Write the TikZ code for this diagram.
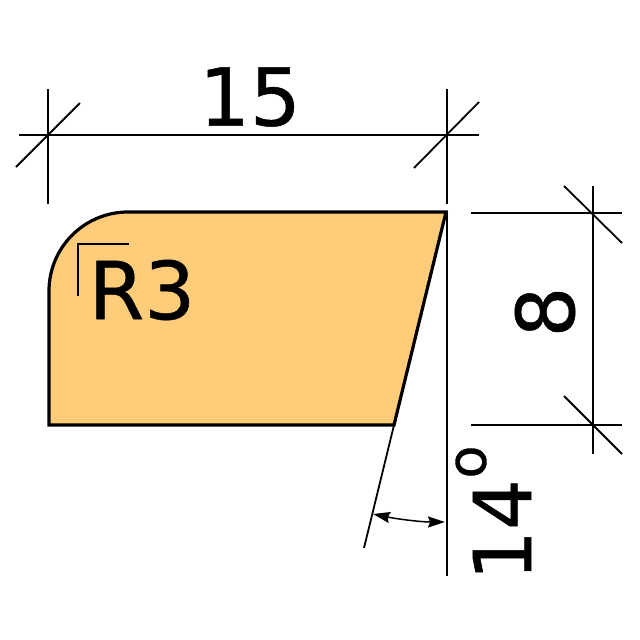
\documentclass[tikz,border=0pt]{standalone}
\usepackage{fontspec}
\setmainfont{DejaVu Sans}
\newfontfamily\heavyfont[FakeBold=0.6]{DejaVu Sans}
\usetikzlibrary{arrows.meta}
\definecolor{wood}{HTML}{FFCC7A}
\tikzset{
  dimline/.style={draw=black,line width=1.8pt},
  outline/.style={draw=black,line width=3.2pt,fill=wood,line join=miter},
  big/.style={inner sep=0pt,font=\heavyfont\fontsize{80}{80}\selectfont},
  angarrow/.style={{Triangle[length=17pt,width=11pt,inset=2pt]}-{Triangle[length=17pt,width=11pt,inset=2pt]}}
}
\begin{document}
\begin{tikzpicture}[x=1pt,y=-1pt]
\useasboundingbox (0,0) rectangle (640,640);
\fill[white] (0,0) rectangle (640,640);
\path[outline] (49,425) -- (49,291) arc[start angle=180,end angle=90,x radius=79,y radius=-79] -- (446,212) -- (394,425) -- cycle;
% top dimension
\draw[dimline] (19,135) -- (479,135);
\draw[dimline] (48,89) -- (48,204);
\draw[dimline] (447,89) -- (447,204);
\draw[dimline] (16,167) -- (80,103);
\draw[dimline] (414,168) -- (479,102);
% right dimension
\draw[dimline] (471,213) -- (622,213);
\draw[dimline] (471,425) -- (622,425);
\draw[dimline] (593,186) -- (593,454);
\draw[dimline] (564,186) -- (622,243);
\draw[dimline] (564,396) -- (622,454);
% angle
\draw[dimline] (447,212) -- (447,576);
\draw[dimline] (446,212) -- (364,548);
\draw[line width=1.5pt,angarrow] (373,514) .. controls (397,519) and (421,522) .. (445,522);
% radius mark
\draw[line width=1.4pt] (78,296) -- (78,244) -- (129,244);
% labels
\node[big] (w) at (250,97) {15};
\node[big,anchor=center] (r) at (142,290) {R3};
\node[big,rotate=90] (h) at (545,312) {8};
\node[big,rotate=90] (a) at (502,530) {14};
\node[inner sep=0pt,font=\heavyfont\fontsize{54}{54}\selectfont,rotate=90] (d) at (471,462) {o};
\end{tikzpicture}
\end{document}
